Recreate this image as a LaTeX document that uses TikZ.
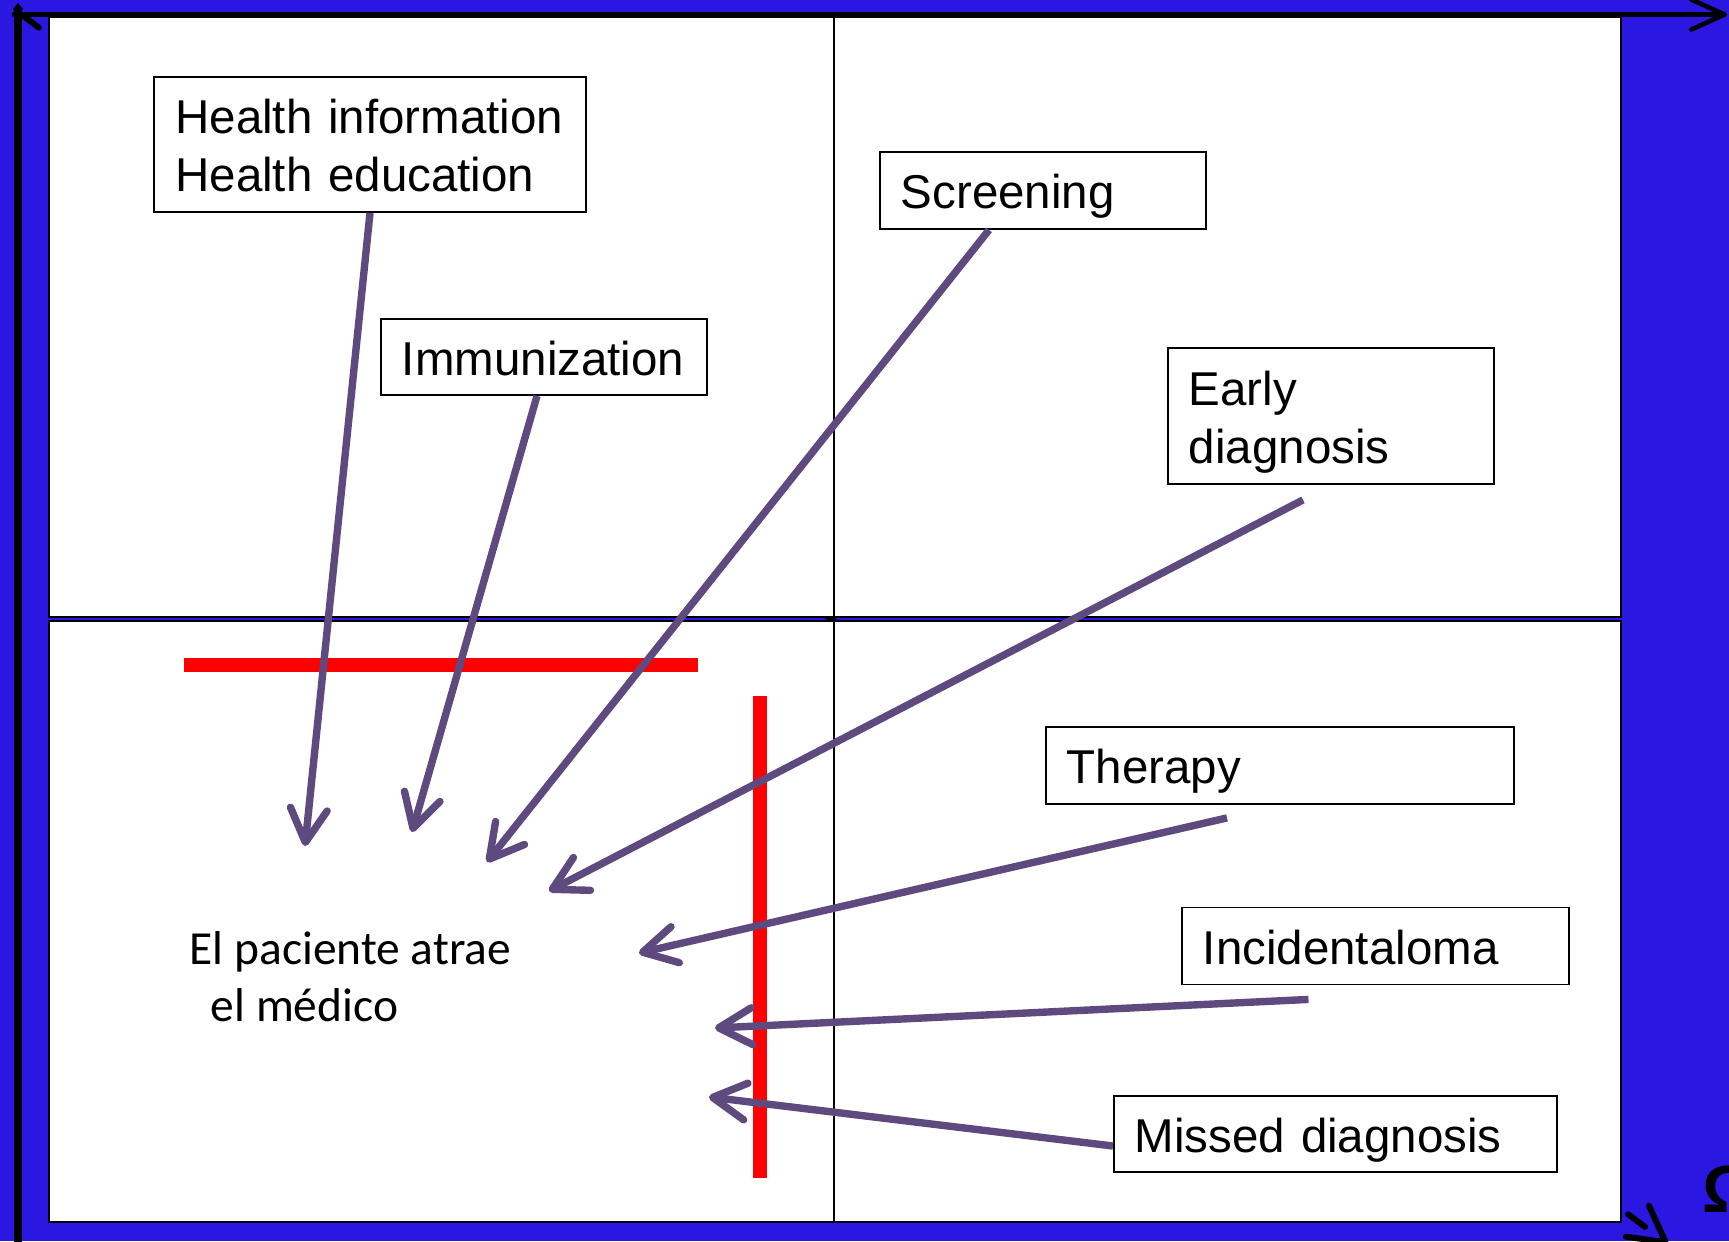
\documentclass[tikz,border=0pt]{standalone}
\usepackage{fontspec}
\setmainfont{Liberation Sans}
\newfontfamily\calibrifont{Carlito}
\usetikzlibrary{arrows.meta,calc}

\definecolor{slideblue}{RGB}{42,24,226}
\definecolor{arrowpurple}{RGB}{94,74,126}

\newcommand{\boxstrut}{\rule[-3pt]{0pt}{16.5pt}}

\tikzset{
  quadrant/.style={fill=white, draw=black, line width=0.6pt},
  labelbox/.style 2 args={draw, line width=0.5pt, align=left, text width=#1,
    minimum height=#2, inner xsep=0.21cm, inner ysep=0pt,
    font=\fontsize{13.5}{16.5}\selectfont,
    execute at begin node=\boxstrut, execute at end node=\boxstrut},
  pointer/.style={draw=arrowpurple, line width=2.1pt,
    -{Straight Barb[length=9.5pt,width=10.5pt,round]}},
  barrier/.style={draw=red, line width=4pt},
  axisline/.style={draw=black, line cap=round},
}

\begin{document}
\begin{tikzpicture}[x=0.01cm, y=-0.01cm]
  \useasboundingbox (0,0) rectangle (1729,1241);
  \fill[slideblue] (0,0) rectangle (1729,1241);

  % axes behind the slide
  \draw[axisline, line width=1.7pt, dash pattern=on 6 off 9,
    -{Straight Barb[length=10pt,width=11pt,round]}] (22,15) -- (1668,1244);
  \draw[axisline, line width=2.3pt] (18,1245) -- (18,12);
  \fill (18,3) -- (23,9) -- (18,15) -- (13,9) -- cycle;
  \draw[axisline, line width=1.3pt,
    -{Straight Barb[length=9.5pt,width=8.5pt,round]}] (14,14.5) -- (1727,14.5);

  % quadrants
  \draw[quadrant] (49,17) rectangle (1621,617);
  \draw[quadrant] (49,621) rectangle (1621,1222);
  \draw[line width=0.6pt] (834,17) -- (834,1222);

  \node[font=\fontsize{19}{19}\selectfont\bfseries] (omega) at (1729,1189) {Ω};

  % boxes
  \node[labelbox={3.89cm}{1.35cm}] (health) at (370,144.5) {Health information\\Health education};
  \node[labelbox={2.84cm}{0.76cm}] (immu) at (544,357) {Immunization};
  \node[labelbox={2.84cm}{0.77cm}] (scr) at (1043,190.5) {Screening};
  \node[labelbox={2.84cm}{1.36cm}] (early) at (1331,416) {Early\\diagnosis};
  \node[labelbox={4.26cm}{0.77cm}] (ther) at (1280,765.5) {Therapy};
  \node[labelbox={3.45cm}{0.77cm}] (inci) at (1375.5,946) {Incidentaloma};
  \node[labelbox={4.01cm}{0.76cm}] (miss) at (1335.5,1134) {Missed diagnosis};

  \node[anchor=west, align=left, inner sep=0pt,
    font=\calibrifont\fontsize{13.5}{16.3}\selectfont] (patient) at (189,977)
    {El paciente atrae\\\hspace*{6pt}el médico};

  % arrow tips
  \coordinate (tiphealth) at (305,846);
  \coordinate (tipimmu) at (412,832);
  \coordinate (tipscr) at (487,862);
  \coordinate (tipearly) at (549,891);
  \coordinate (tipther) at (639,953);
  \coordinate (tipinci) at (715,1028);
  \coordinate (tipmiss) at (709,1097);

  % red barriers
  \draw[barrier] (184,665) -- (698,665);
  \draw[barrier] (760,696) -- (760,1178);

  \draw[pointer] (health.south) -- (tiphealth);
  \draw[pointer] ($(immu.south)+(-7,0)$) -- (tipimmu);
  \draw[pointer] ($(scr.south)+(-54,0)$) -- (tipscr);
  \draw[pointer] ($(early.south)+(-28,15)$) -- (tipearly);
  \draw[pointer] ($(ther.south)+(-53,13)$) -- (tipther);
  \draw[pointer] ($(inci.south)+(-67,14)$) -- (tipinci);
  \draw[pointer] ($(miss.west)+(0,12)$) -- (tipmiss);
\end{tikzpicture}
\end{document}
